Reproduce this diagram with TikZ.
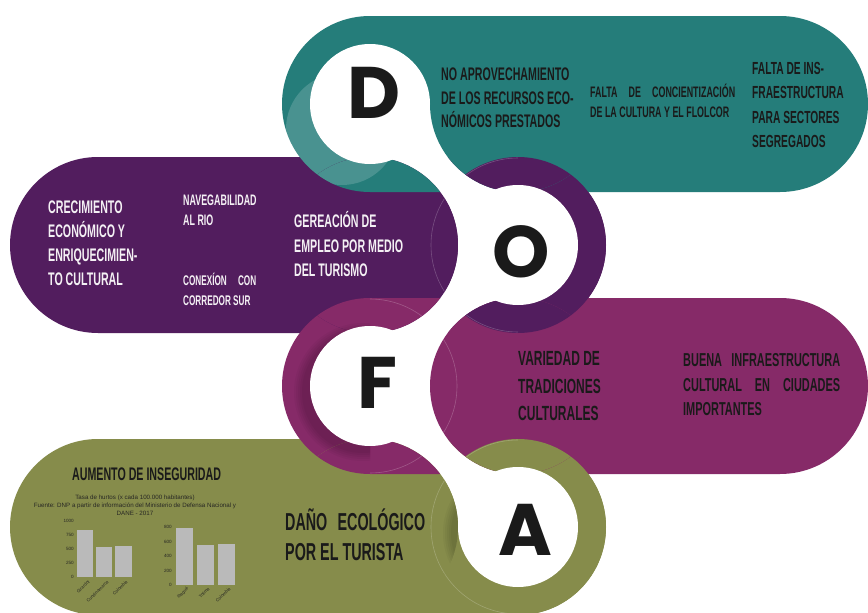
\documentclass[tikz,border=0pt]{standalone}
\usepackage{fontspec}
\setmainfont{Liberation Sans}
\newfontfamily\cnd{Liberation Sans}[FakeStretch=0.585,UprightFont=*-Bold]
\newfontfamily\ltrfont{Poppins}
\definecolor{cteal}{RGB}{37,125,122}
\definecolor{cpurp}{RGB}{82,29,94}
\definecolor{cmag}{RGB}{134,42,104}
\definecolor{colive}{RGB}{134,140,75}
\definecolor{ink}{RGB}{26,26,26}
\definecolor{paper}{RGB}{244,240,244}
\definecolor{bargray}{RGB}{186,186,186}
\definecolor{chartink}{RGB}{40,40,36}
\newcommand\bandlayer{%
  \fill[cpurp,rounded corners=88pt] (10,157) rectangle (606,333);
  \fill[colive,rounded corners=88pt] (10,439) rectangle (606,615);
  \fill[cteal,rounded corners=88pt] (282,16) rectangle (868,192);
  \begin{scope}
    \clip[rounded corners=88pt] (282,16) rectangle (868,192);
    \fill[white,opacity=0.17] (342,129) circle[radius=56];
  \end{scope}
  \fill[cmag,rounded corners=88pt] (282,298) rectangle (868,474);
  \fill[cpurp] (518,245) circle[radius=88];
  \fill[colive] (518,527) circle[radius=88];
  \draw[white,opacity=0.22,line width=0.6pt]
     (518,332) arc[start angle=90,end angle=270,radius=87]
     (370,299) arc[start angle=-90,end angle=90,radius=87]
     (518,614) arc[start angle=90,end angle=270,radius=87];
}
\newcommand\fA{\cnd\fontsize{18.2}{22}\selectfont}
\newcommand\fB{\cnd\fontsize{15.2}{18}\selectfont}
\newcommand\fC{\cnd\fontsize{17.5}{21}\selectfont}
\newcommand\fE{\cnd\fontsize{14}{17}\selectfont}
\newcommand\fM{\cnd\fontsize{20.5}{24}\selectfont}
\newcommand\fN{\cnd\fontsize{18.7}{22}\selectfont}
\newcommand\fBig{\cnd\fontsize{24.5}{28}\selectfont}
\newcommand\fL{\ltrfont\bfseries\fontsize{73}{73}\selectfont}
\begin{document}
\begin{tikzpicture}[x=1pt,y=-1pt,
  tx/.style={anchor=base west,inner sep=0pt,text=ink},
  tw/.style={anchor=base west,inner sep=0pt,text=paper},
  ltr/.style={anchor=center,inner sep=0pt,text=ink,font=\fL},
  axl/.style={font=\fontsize{4.6}{5}\selectfont,text=chartink,anchor=east,inner sep=0pt},
  xl/.style={font=\fontsize{4.5}{5}\selectfont,text=chartink,anchor=east,rotate=45,inner sep=0pt},
  ttl/.style={font=\fontsize{6.2}{7}\selectfont,text=chartink,anchor=base,inner sep=0pt}]
\useasboundingbox (0,0) rectangle (868,613);
\fill[white] (0,0) rectangle (868,613);
\bandlayer
% white snake
\fill[white] (370,104) rectangle (518,527);
\foreach \qx/\qy in {518/104,370/245,518/386,370/527}{
  \begin{scope}
    \clip (\qx,\qy) circle[radius=88];
    \bandlayer
  \end{scope}
}
% soft shadows
\begin{scope}
  \clip (0,300) rectangle (370,613);
  \foreach \r in {61,63,65,67,69}{\fill[black,opacity=0.035] (363,392) circle[radius=\r];}
\end{scope}
\begin{scope}
  \clip (370,527) circle[radius=88];
  \foreach \r in {61,63,65,67,69}{\fill[black,opacity=0.035] (512,533) circle[radius=\r];}
\end{scope}
\foreach \cx/\cy in {370/104,518/245,370/386,518/527}{
  \fill[white] (\cx,\cy) circle[radius=60];
}
% letters
\node[ltr] (D) at (374,93) {D};
\node[ltr] (O) at (521,252) {O};
\node[ltr] (F) at (377,383) {F};
\node[ltr] (A) at (525,530) {A};
% teal texts
\node[tx,font=\fA] (t1a) at (441,80) {NO APROVECHAMIENTO};
\node[tx,font=\fA] (t1b) at (441,104) {DE LOS RECURSOS ECO-};
\node[tx,font=\fA] (t1c) at (441,127) {NÓMICOS PRESTADOS};
\node[tx,font=\fB] (t2a) at (590,97.5) {\makebox[145pt][s]{FALTA DE CONCIENTIZACIÓN}};
\node[tx,font=\fB] (t2b) at (590,117.5) {DE LA CULTURA Y EL FLOLCOR};
\node[tx,font=\fC] (t3a) at (752,74) {FALTA DE INS-};
\node[tx,font=\fC] (t3b) at (752,98) {FRAESTRUCTURA};
\node[tx,font=\fC] (t3c) at (752,123) {PARA SECTORES};
\node[tx,font=\fC] (t3d) at (752,147) {SEGREGADOS};
% purple texts
\node[tw,font=\fA] (t4a) at (48,213) {CRECIMIENTO};
\node[tw,font=\fA] (t4b) at (48,237) {ECONÓMICO Y};
\node[tw,font=\fA] (t4c) at (48,261) {ENRIQUECIMIEN-};
\node[tw,font=\fA] (t4d) at (48,285) {TO CULTURAL};
\node[tw,font=\fB] (t5a) at (183,205) {NAVEGABILIDAD};
\node[tw,font=\fB] (t5b) at (183,225) {AL RIO};
\node[tw,font=\fE] (t6a) at (183,285) {\makebox[73pt][s]{CONEXÍON CON}};
\node[tw,font=\fE] (t6b) at (183,305) {CORREDOR SUR};
\node[tw,font=\fA] (t7a) at (294,227) {GEREACIÓN DE};
\node[tw,font=\fA] (t7b) at (294,252) {EMPLEO POR MEDIO};
\node[tw,font=\fA] (t7c) at (294,276) {DEL TURISMO};
% magenta texts
\node[tx,font=\fM] (t8a) at (518,365) {VARIEDAD DE};
\node[tx,font=\fM] (t8b) at (518,393) {TRADICIONES};
\node[tx,font=\fM] (t8c) at (518,420) {CULTURALES};
\node[tx,font=\fN] (t9a) at (683,366) {\makebox[157pt][s]{BUENA INFRAESTRUCTURA}};
\node[tx,font=\fN] (t9b) at (683,391) {\makebox[157pt][s]{CULTURAL EN CIUDADES}};
\node[tx,font=\fN] (t9c) at (683,415) {IMPORTANTES};
% olive texts
\node[tx,font=\fA] (t10) at (72,480) {AUMENTO DE INSEGURIDAD};
\node[tx,font=\fBig] (t13a) at (285,530) {\makebox[140pt][s]{DAÑO ECOLÓGICO}};
\node[tx,font=\fBig] (t13b) at (285,560) {POR EL TURISTA};
% chart title
\node[ttl] (ct1) at (135,499) {Tasa de hurtos (x cada 100.000 habitantes)};
\node[ttl] (ct2) at (135,507) {Fuente: DNP a partir de información del Ministerio de Defensa Nacional y};
\node[ttl] (ct3) at (135,515) {DANE - 2017};
% chart 1
\node[axl] (c1l0) at (74,577) {0};
\node[axl] (c1l1) at (74,563) {250};
\node[axl] (c1l2) at (74,549) {500};
\node[axl] (c1l3) at (74,535) {750};
\node[axl] (c1l4) at (74,521) {1000};
\fill[bargray] (77,530) rectangle (93,577);
\fill[bargray] (96,547) rectangle (112,577);
\fill[bargray] (115,546) rectangle (132,577);
\node[xl] (c1x1) at (89,581) {Girardot};
\node[xl] (c1x2) at (108,581) {Cundinamarca};
\node[xl] (c1x3) at (127,581) {Colombia};
% chart 2
\node[axl] (c2l0) at (172,585) {0};
\node[axl] (c2l1) at (172,570.5) {200};
\node[axl] (c2l2) at (172,556) {400};
\node[axl] (c2l3) at (172,541.5) {600};
\node[axl] (c2l4) at (172,527) {800};
\fill[bargray] (176,527.5) rectangle (193,585);
\fill[bargray] (197,544.5) rectangle (214,585);
\fill[bargray] (218,544) rectangle (235,585);
\node[xl] (c2x1) at (188,588) {Ibagué};
\node[xl] (c2x2) at (209,588) {Tolima};
\node[xl] (c2x3) at (230,588) {Colombia};
\end{tikzpicture}
\end{document}
